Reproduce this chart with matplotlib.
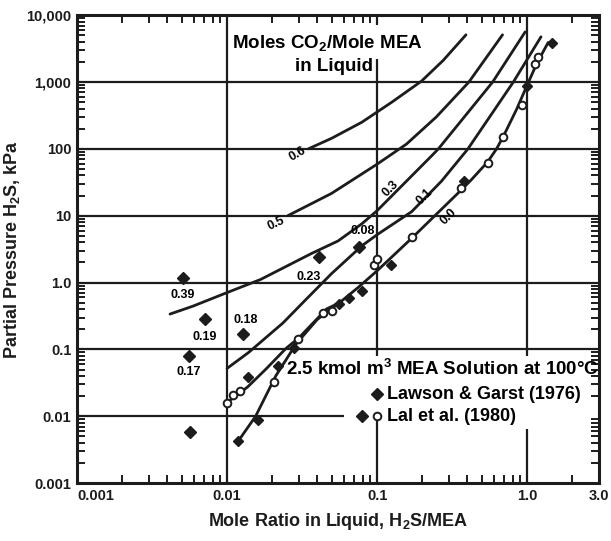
import matplotlib
matplotlib.use('Agg')
import matplotlib.pyplot as plt
from matplotlib.ticker import LogLocator, NullFormatter

plt.rcParams['font.family'] = ['Liberation Sans', 'DejaVu Sans']
plt.rcParams['font.weight'] = 'bold'
plt.rcParams['axes.labelweight'] = 'bold'
plt.rcParams['mathtext.fontset'] = 'custom'
plt.rcParams['mathtext.rm'] = 'Liberation Sans:bold'
plt.rcParams['mathtext.bf'] = 'Liberation Sans:bold'
plt.rcParams['mathtext.default'] = 'rm'

INK = '#1c1c1c'

# equilibrium curves, one per CO2 loading (mol CO2 / mol MEA)
co2_06_x = [0.0348, 0.0497, 0.0793, 0.1256, 0.198, 0.276, 0.391]
co2_06_y = [100, 143.6, 251, 501, 1035, 2110, 5080]

co2_05_x = [0.0254, 0.0496, 0.1, 0.157, 0.248, 0.409, 0.685]
co2_05_y = [10, 21.5, 59, 118, 300, 1000, 5080]

co2_03_x = [0.00417, 0.00593, 0.0097, 0.0167, 0.0364, 0.055, 0.0793, 0.1,
            0.23, 0.256, 0.589, 0.97]
co2_03_y = [0.338, 0.444, 0.689, 1.11, 2.71, 4.2, 7.6, 11.9,
            78, 100, 1000, 5620]

co2_01_x = [0.01, 0.0139, 0.0236, 0.0327, 0.0497, 0.0793, 0.1, 0.170,
            0.268, 0.403, 0.809, 1.236]
co2_01_y = [0.052, 0.0898, 0.249, 0.526, 1.36, 3.56, 5.2, 11.5,
            32.7, 100, 1000, 4740]

co2_00_x = [0.0119, 0.0155, 0.0211, 0.0288, 0.0399, 0.0562, 0.075, 0.1, 0.17,
            0.362, 0.422, 0.546, 0.625, 0.695, 0.85, 1.0, 1.16, 1.38]
co2_00_y = [0.00428, 0.0100, 0.040, 0.12, 0.28, 0.50, 0.85, 1.5, 4.6,
            24, 34, 64, 100, 155, 390, 900, 1900, 3900]

# low-loading branch that joins the 0.0 curve
branch_x = [0.01, 0.0137, 0.0181, 0.0247, 0.0302, 0.0459, 0.0562]
branch_y = [0.016, 0.0274, 0.0504, 0.1035, 0.150, 0.401, 0.50]

curve_names = ['0.6', '0.5', '0.3', '0.1', '0.0']
curve_label_x = [0.0297, 0.0211, 0.122, 0.207, 0.298]
curve_label_y = [84, 7.6, 25.6, 19.4, 9.7]
curve_label_rot = [30, 25, 45, 45, 45]

# Lawson & Garst (1976), labelled with CO2 loading
lg_x = [0.00509, 0.00714, 0.00558, 0.00566, 0.0128, 0.0412, 0.0755]
lg_y = [1.15, 0.286, 0.0806, 0.00588, 0.172, 2.44, 3.44]
lg_labels = ['0.39', '0.19', '0.17', '', '0.18', '0.23', '0.08']

# unlabelled filled points near the 0.0 curve
fill_x = [0.01186, 0.0160, 0.01387, 0.0218, 0.0279, 0.0553, 0.0647, 0.0793,
          0.124, 0.379, 0.993, 1.46]
fill_y = [0.00428, 0.0088, 0.0392, 0.0562, 0.1035, 0.475, 0.582, 0.737,
          1.86, 32.7, 877, 3870]

# Lal et al. (1980)
lal_x = [0.01, 0.011, 0.01225, 0.0205, 0.0297, 0.0438, 0.0497, 0.0955, 0.1,
         0.170, 0.362, 0.546, 0.695, 0.927, 1.129, 1.18]
lal_y = [0.016, 0.0205, 0.0237, 0.0328, 0.145, 0.35, 0.375, 1.86, 2.28,
         4.86, 25.6, 61.4, 153, 454, 1840, 2330]

xticks = [0.001, 0.01, 0.1, 1, 3]
xtick_labels = ['0.001', '0.01', '0.1', '1.0', '3.0']
yticks = [0.001, 0.01, 0.1, 1, 10, 100, 1000, 10000]
ytick_labels = ['0.001', '0.01', '0.1', '1.0', '10', '100', '1,000', '10,000']

fig = plt.figure(figsize=(6.11, 5.41), dpi=100)
ax = fig.add_axes([0.126, 0.107, 0.854, 0.865])
ax.set_xscale('log')
ax.set_yscale('log')
ax.set_xlim(0.001, 3.0)
ax.set_ylim(0.001, 10000)

# decade grid, broken where the text sits
gkw = dict(color=INK, lw=1.6, zorder=1)
for yv in [0.1, 1, 10, 100, 1000]:
    ax.axhline(yv, **gkw)
ax.hlines(0.01, 0.001, 0.0598, **gkw)
ax.axvline(0.01, **gkw)
ax.vlines([0.1, 0.1, 0.1], [0.001, 0.0805, 7130], [0.01, 2200, 10000], **gkw)
ax.vlines([1.0, 1.0], [0.001, 0.0805], [0.00654, 10000], **gkw)

ckw = dict(color=INK, lw=2.0, zorder=3, solid_capstyle='round', solid_joinstyle='round')
for cx, cy in [(co2_06_x, co2_06_y), (co2_05_x, co2_05_y), (co2_03_x, co2_03_y),
               (co2_01_x, co2_01_y), (co2_00_x, co2_00_y), (branch_x, branch_y)]:
    ax.plot(cx, cy, **ckw)

for name, lx, ly, rot in zip(curve_names, curve_label_x, curve_label_y, curve_label_rot):
    ax.text(lx, ly, name, fontsize=9, rotation=rot, ha='center', va='center', zorder=4)

ax.plot(lg_x, lg_y, 'D', color=INK, ms=6, zorder=5)
ax.plot(fill_x, fill_y, 'D', color=INK, ms=5.5, zorder=5)
ax.plot(lal_x, lal_y, 'o', mfc='white', mec=INK, mew=1.4, ms=5.5, zorder=5)

label_offsets = [(0, -12), (0, -13), (0, -12), (0, 0), (2, 10), (-8, -15), (3, 11)]
for x, y, lab, off in zip(lg_x, lg_y, lg_labels, label_offsets):
    if lab:
        ax.annotate(lab, (x, y), xytext=off, textcoords='offset points',
                    fontsize=9, ha='center', va='center', zorder=6)

# header and legend block
ax.text(0.0108, 3870, 'Moles CO$_2$/Mole MEA', fontsize=13.5, ha='left', va='center')
ax.text(0.094, 1720, 'in Liquid', fontsize=13.5, ha='right', va='center')
ax.text(0.0246, 0.0505, '2.5 kmol m$^3$ MEA Solution at 100°C', fontsize=13.5,
        ha='left', va='center')
ax.plot([0.1], [0.0213], 'D', color=INK, ms=6, zorder=5)
ax.text(0.116, 0.0213, 'Lawson & Garst (1976)', fontsize=13, ha='left', va='center')
ax.plot([0.0793], [0.01], 'D', color=INK, ms=6, zorder=5)
ax.plot([0.1], [0.01], 'o', mfc='white', mec=INK, mew=1.4, ms=5.5, zorder=5)
ax.text(0.116, 0.01, 'Lal et al. (1980)', fontsize=13, ha='left', va='center')

ax.set_xticks(xticks)
ax.set_xticklabels(xtick_labels)
ax.set_yticks(yticks)
ax.set_yticklabels(ytick_labels)
ax.xaxis.set_minor_locator(LogLocator(base=10, subs=range(2, 10), numticks=20))
ax.yaxis.set_minor_locator(LogLocator(base=10, subs=range(2, 10), numticks=20))
ax.xaxis.set_minor_formatter(NullFormatter())
ax.yaxis.set_minor_formatter(NullFormatter())
ax.tick_params(which='major', length=0, labelsize=10.5, pad=4, colors=INK)
ax.tick_params(which='minor', direction='in', length=6, width=1.4,
               top=True, right=True, colors=INK)
ax.get_xticklabels()[0].set_ha('left')

for sp in ax.spines.values():
    sp.set_linewidth(2.2)
    sp.set_color(INK)

ax.set_ylabel('Partial Pressure H$_2$S, kPa', fontsize=13, labelpad=3, color=INK)
ax.set_xlabel('Mole Ratio in Liquid, H$_2$S/MEA', fontsize=13, labelpad=6, color=INK)

fig.savefig('out.png', dpi=100)
